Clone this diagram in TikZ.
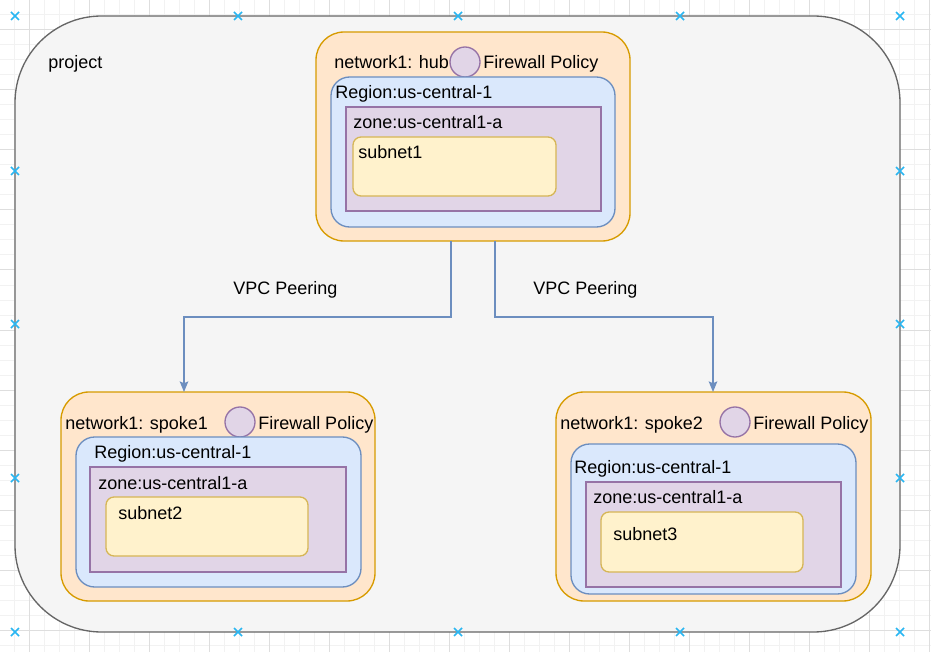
\documentclass[tikz,border=0pt]{standalone}
\usepackage{fontspec}
\setmainfont{Liberation Sans}
\usetikzlibrary{arrows.meta}
\usetikzlibrary{fit}

\definecolor{gridMinor}{HTML}{F2F2F2}
\definecolor{gridMajor}{HTML}{DEDEDE}
\definecolor{projFill}{HTML}{F5F5F5}
\definecolor{projLine}{HTML}{666666}
\definecolor{netFill}{HTML}{FFE6CC}
\definecolor{netLine}{HTML}{D79B00}
\definecolor{regFill}{HTML}{DAE8FC}
\definecolor{regLine}{HTML}{6C8EBF}
\definecolor{zoneFill}{HTML}{E1D5E7}
\definecolor{zoneLine}{HTML}{9673A6}
\definecolor{subFill}{HTML}{FFF2CC}
\definecolor{subLine}{HTML}{D6B656}
\definecolor{handleBlue}{HTML}{29B6F2}

\begin{document}
\begin{tikzpicture}[x = 0.75pt, y = -0.75pt]
\tikzstyle{projectStyle} = [draw = projLine, fill = projFill, line width = 1pt, rounded corners = 65pt, inner sep = 0pt, outer sep = 0pt]
\tikzstyle{networkStyle} = [draw = netLine, fill = netFill, line width = 1pt, rounded corners = 21pt, inner sep = 0pt, outer sep = 0pt]
\tikzstyle{regionStyle} = [draw = regLine, fill = regFill, line width = 1pt, rounded corners = 14pt, inner sep = 0pt, outer sep = 0pt]
\tikzstyle{zoneStyle} = [draw = zoneLine, fill = zoneFill, line width = 1pt, inner sep = 0pt, outer sep = 0pt]
\tikzstyle{subnetStyle} = [draw = subLine, fill = subFill, line width = 1pt, rounded corners = 6pt, inner sep = 0pt, outer sep = 0pt]
\tikzstyle{policyStyle} = [shape = circle, draw = zoneLine, fill = zoneFill, line width = 1pt, minimum size = 22.5pt, inner sep = 0pt]
\tikzstyle{labelStyle} = [anchor = base west, inner sep = 0pt, font = \fontsize{13.5}{16}\selectfont]
\tikzstyle{peerStyle} = [draw = regLine, line width = 1pt, -{Stealth[length = 8pt, width = 6.5pt, inset = 1.5pt]}]
\tikzstyle{handleStyle} = [draw = handleBlue, line width = 1.1pt]
\useasboundingbox (0,0) rectangle (931,652);
\fill[white] (0,0) rectangle (931,652);
% grid
\foreach \gx in {-1,14,...,931} \draw[gridMinor, line width = 0.75pt] (\gx,0) -- (\gx,652);
\foreach \gy in {0,15,...,652} \draw[gridMinor, line width = 0.75pt] (0,\gy) -- (931,\gy);
\foreach \gx in {29,89,...,931} \draw[gridMajor, line width = 0.75pt] (\gx,0) -- (\gx,652);
\foreach \gy in {30,90,...,652} \draw[gridMajor, line width = 0.75pt] (0,\gy) -- (931,\gy);

% project
\node[projectStyle, fit = {(15,16) (900,632)}] (project) {};
\node[labelStyle] (projectText) at (48,69) {project};

% hub
\node[networkStyle, fit = {(316,32) (630,241)}] (hub) {};
\node[labelStyle] (hubText) at (334,69) {network1: hub};
\node[policyStyle] (hubPolicy) at (465,62) {};
\node[labelStyle] (hubPolicyText) at (483,69) {Firewall Policy};
\node[regionStyle, fit = {(331,77) (615,227)}] (hubRegion) {};
\node[labelStyle] (hubRegionText) at (335,99) {Region:us-central-1};
\node[zoneStyle, fit = {(346,107) (601,211)}] (hubZone) {};
\node[labelStyle] (hubZoneText) at (353,129) {zone:us-central1-a};
\node[subnetStyle, fit = {(353,137) (556,196)}] (subnet1) {};
\node[labelStyle] (subnet1Text) at (358,159) {subnet1};

% spoke1
\node[networkStyle, fit = {(61,392) (375,601)}] (spoke1) {};
\node[labelStyle] (spoke1Text) at (65,429) {network1: spoke1};
\node[policyStyle] (spoke1Policy) at (240,422) {};
\node[labelStyle] (spoke1PolicyText) at (258,429) {Firewall Policy};
\node[regionStyle, fit = {(76,437) (361,587)}] (spoke1Region) {};
\node[labelStyle] (spoke1RegionText) at (94,458) {Region:us-central-1};
\node[zoneStyle, fit = {(90,467) (346,572)}] (spoke1Zone) {};
\node[labelStyle] (spoke1ZoneText) at (98,489) {zone:us-central1-a};
\node[subnetStyle, fit = {(106,497) (308,556)}] (subnet2) {};
\node[labelStyle] (subnet2Text) at (118,519) {subnet2};

% spoke2
\node[networkStyle, fit = {(556,392) (871,601)}] (spoke2) {};
\node[labelStyle] (spoke2Text) at (560,429) {network1: spoke2};
\node[policyStyle] (spoke2Policy) at (735,422) {};
\node[labelStyle] (spoke2PolicyText) at (753,429) {Firewall Policy};
\node[regionStyle, fit = {(571,444) (856,594)}] (spoke2Region) {};
\node[labelStyle] (spoke2RegionText) at (574,473) {Region:us-central-1};
\node[zoneStyle, fit = {(586,482) (841,587)}] (spoke2Zone) {};
\node[labelStyle] (spoke2ZoneText) at (593,503) {zone:us-central1-a};
\node[subnetStyle, fit = {(601,512) (803,572)}] (subnet3) {};
\node[labelStyle] (subnet3Text) at (613,540) {subnet3};

% peering
\coordinate (bendA) at (184,317);
\coordinate (bendB) at (713,317);
\draw[peerStyle] ([xshift = -16.5pt]hub.south) |- (bendA) -- (bendA |- spoke1.north);
\draw[peerStyle] ([xshift = 16.5pt]hub.south) |- (bendB) -- (bendB |- spoke2.north);
\node[labelStyle] (peerAText) at (233,294) {VPC Peering};
\node[labelStyle] (peerBText) at (533,294) {VPC Peering};

% handles
\foreach \hx/\hy in {15/16,238/16,458/16,680/16,900/16,15/171,900/171,15/324,900/324,15/478,900/478,15/632,238/632,458/632,680/632,900/632}
  \draw[handleStyle] (\hx-4,\hy-4) -- (\hx+4,\hy+4) (\hx-4,\hy+4) -- (\hx+4,\hy-4);
\end{tikzpicture}
\end{document}
